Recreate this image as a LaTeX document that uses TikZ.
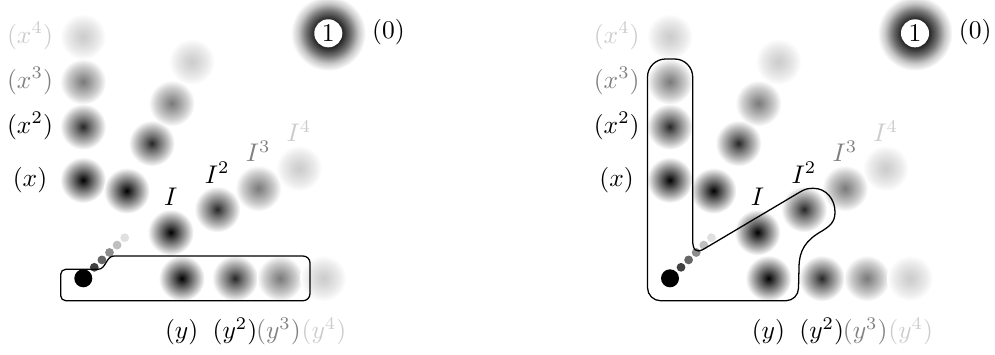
\documentclass[tikz,border=0pt]{standalone}
\pgfdeclareradialshading{blobA}{\pgfpointorigin}{color(0bp)=(black); color(7bp)=(black!72); color(17bp)=(black!33); color(25bp)=(white); color(50bp)=(white)}
\pgfdeclareradialshading{blobB}{\pgfpointorigin}{color(0bp)=(black!85); color(7bp)=(black!60); color(17bp)=(black!28); color(25bp)=(white); color(50bp)=(white)}
\pgfdeclareradialshading{blobC}{\pgfpointorigin}{color(0bp)=(black!52); color(7bp)=(black!40); color(17bp)=(black!20); color(25bp)=(white); color(50bp)=(white)}
\pgfdeclareradialshading{blobD}{\pgfpointorigin}{color(0bp)=(black!20); color(7bp)=(black!16); color(17bp)=(black!8); color(25bp)=(white); color(50bp)=(white)}
\pgfdeclareradialshading{bigblob}{\pgfpointorigin}{color(0bp)=(black); color(9.5bp)=(black!85); color(15bp)=(black!55); color(20bp)=(black!22); color(25bp)=(white); color(50bp)=(white)}
\colorlet{levC}{black!50}
\colorlet{levD}{black!20}
\begin{document}
\begin{tikzpicture}[x=0.392pt,y=-0.392pt,
  lab/.style={anchor=base,inner sep=0pt},
  rim/.style={draw=black,line width=0.5pt,line join=round}]
\useasboundingbox (0,0) rectangle (995,354);
\foreach \s/\p in {0/L,586.7/R}{
\begin{scope}[shift={(\s,0)}]
 \foreach \x/\y/\sh in {83/180/blobA,83/126.7/blobB,83/81.7/blobC,83/36.7/blobD,
   126.7/190.7/blobA,151.7/143.3/blobB,171.7/103.3/blobC,191.7/61.7/blobD,
   170.7/232.3/blobA,217.3/209.3/blobB,258.3/188.3/blobC,299/168.3/blobD,
   181.7/278.3/blobA,235/278.3/blobB,280/278.3/blobC,323.3/278.3/blobD}
   {\shade[shading=\sh] (\x,\y) circle (23);}
 \shade[shading=bigblob] (328.3,33.3) circle (37.5);
 \node[circle,fill=white,minimum size=11pt,inner sep=0pt] (one\p) at (328.3,33.3) {$1$};
 \node[lab] (zero\p) at (388.5,38.7) {$(0)$};
 \foreach \i/\c in {0/black!75,1/black!60,2/black!45,3/black!25,4/black!12}
   {\fill[\c] ({94.3+7.6*\i},{267.3-7.4*\i}) circle (4.4);}
 \fill[black] (83.3,278.3) circle (9);
 \node[lab] (x1\p) at (30,186.4) {$(x)$};
 \node[lab] (x2\p) at (30,133.1) {$(x^2)$};
 \node[lab,text=levC] (x3\p) at (30,88.1) {$(x^3)$};
 \node[lab,text=levD] (x4\p) at (30,43.1) {$(x^4)$};
 \node[lab] (i1\p) at (170.7,205.5) {$I$};
 \node[lab] (i2\p) at (217.3,183) {$I^2$};
 \node[lab,text=levC] (i3\p) at (258.3,161.7) {$I^3$};
 \node[lab,text=levD] (i4\p) at (299,141.7) {$I^4$};
 \node[lab] (y1\p) at (181.7,338.4) {$(y)$};
 \node[lab] (y2\p) at (235,338.4) {$(y^2)$};
 \node[lab,text=levC] (y3\p) at (278.5,338.4) {$(y^3)$};
 \node[lab,text=levD] (y4\p) at (324,338.4) {$(y^4)$};
\end{scope}}
\draw[rim] (65.7,269.3) -- (98,269.3) .. controls (106,269.3) and (106,256) .. (114,256)
  -- (303,256) .. controls (306.9,256) and (310,259.1) .. (310,263)
  -- (310,293.7) .. controls (310,297.6) and (306.9,300.7) .. (303,300.7)
  -- (65.7,300.7) .. controls (62.9,300.7) and (60.7,298.5) .. (60.7,295.7)
  -- (60.7,274.3) .. controls (60.7,271.5) and (62.9,269.3) .. (65.7,269.3) -- cycle;
\draw[rim] (647.5,287.7) -- (647.5,77) .. controls (647.5,67.1) and (655.6,59) .. (665.5,59)
  -- (674.7,59) .. controls (684.6,59) and (692.7,67.1) .. (692.7,77)
  -- (692.7,240) .. controls (692.7,250) and (696,253) .. (703,249.5)
  -- (800,192) .. controls (805,189) and (808,188.3) .. (813.3,188.3)
  .. controls (826,188.3) and (835,199) .. (835,212)
  .. controls (835,222) and (830,226) .. (822,231)
  .. controls (806,240) and (799,250) .. (799,268)
  -- (798.5,288) .. controls (798.5,295) and (793,300.7) .. (786,300.7)
  -- (660.5,300.7) .. controls (653.3,300.7) and (647.5,294.9) .. (647.5,287.7) -- cycle;
\end{tikzpicture}
\end{document}
